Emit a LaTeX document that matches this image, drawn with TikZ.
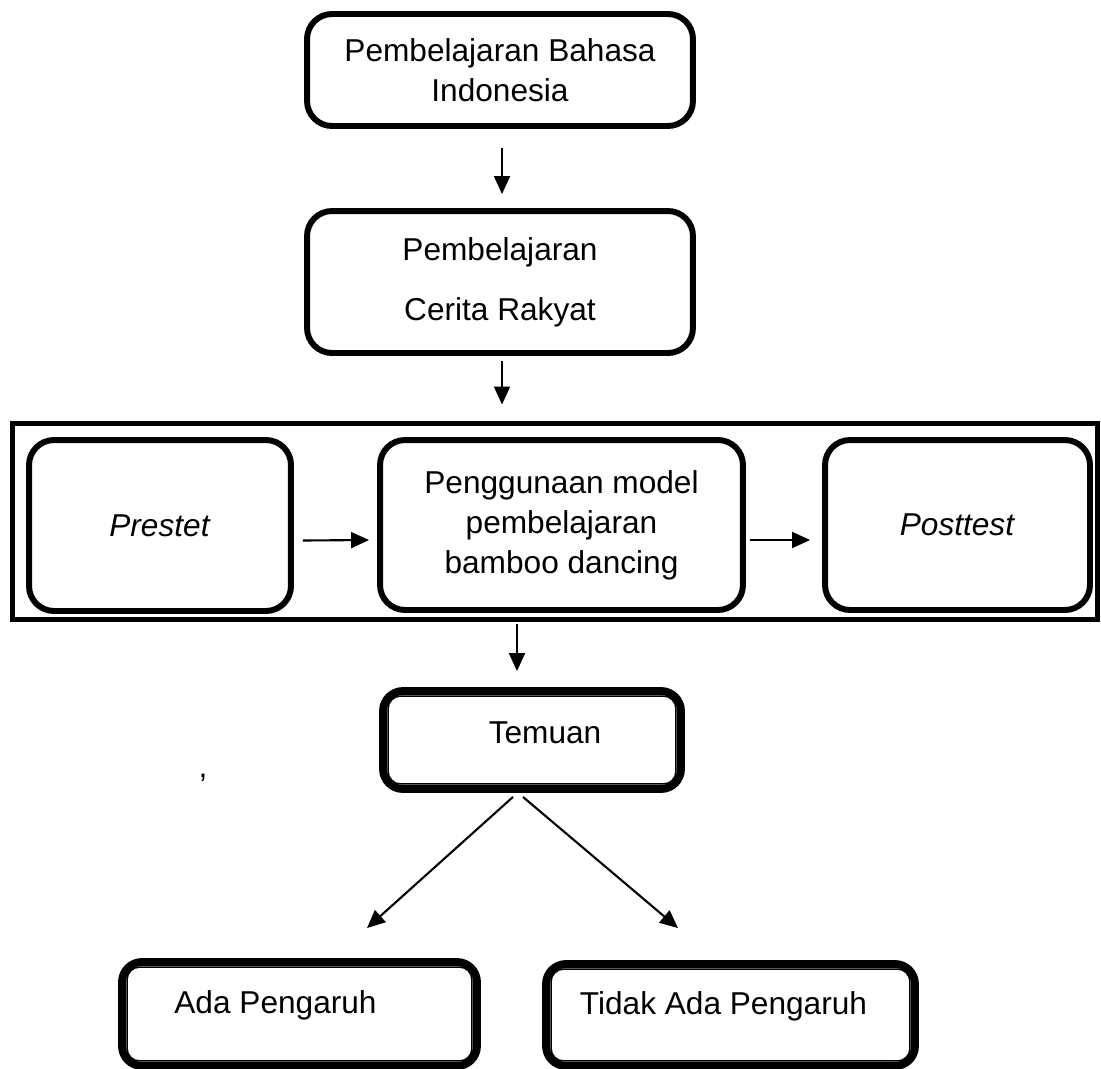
\documentclass[tikz,border=0pt]{standalone}
\usepackage{fontspec}
\setmainfont{Liberation Sans}
\usetikzlibrary{arrows.meta,calc}

\tikzset{
  txt/.style={font=\fontsize{18}{22.8}\selectfont},
  box/.style={txt, draw, line width=3.4pt, rounded corners=0.5cm, align=center},
  dblbox/.style={txt, draw, line width=4.5pt, rounded corners=0.4cm, align=center},
  innerline/.style={line width=0.85pt, rounded corners=0.25cm},
  arr/.style={line width=1.2pt, -{Triangle[length=0.36cm,width=0.32cm]}},
}

\begin{document}
\begin{tikzpicture}[x=0.02cm,y=-0.02cm]
\fill[white] (0,0) rectangle (1101,1068);
\useasboundingbox (0,0) rectangle (1101,1068);

\node[box, minimum width=7.72cm, minimum height=2.24cm] (indo) at (500,70) {Pembelajaran Bahasa\\Indonesia};
\node[box, minimum width=7.72cm, minimum height=2.84cm] (cerita) at (500,282) {Pembelajaran\\[0.4cm]Cerita Rakyat};

% kotak perlakuan
\node[draw, line width=2.85pt, minimum width=21.69cm, minimum height=3.94cm] (frame) at (555,521.5) {};
\node[box, minimum width=5.24cm, minimum height=3.42cm] (pre) at (160,525.5) {\textit{Prestet}};
\node[box, minimum width=7.26cm, minimum height=3.4cm] (model) at (561.5,525) {Penggunaan model\\pembelajaran\\bamboo dancing};
\node[box, minimum width=5.3cm, minimum height=3.4cm] (post) at (957.5,525) {\textit{Posttest}};

\node[dblbox, minimum width=5.96cm, minimum height=1.96cm] (temuan) at (532,740) {\hspace*{0.52cm}\raisebox{0.14cm}[\height][\depth]{Temuan}};
\node[dblbox, minimum width=7.1cm, minimum height=2.08cm] (ada) at (299.5,1014) {\hspace*{-0.96cm}\raisebox{0.18cm}[\height][\depth]{Ada Pengaruh}};
\node[dblbox, minimum width=7.38cm, minimum height=2.04cm] (tidak) at (730.5,1015) {\hspace*{-0.28cm}\raisebox{0.18cm}[\height][\depth]{Tidak Ada Pengaruh}};
\node[txt] (koma) at (203,778) {,};

\foreach \b in {temuan,ada,tidak}
  \draw[innerline] ($(\b.north west)+(9,9)$) rectangle ($(\b.south east)+(-9,-9)$);

\draw[arr] ($(indo.south)+(2,19)$) -- ($(cerita.north)+(2,-14)$);
\draw[arr] ($(cerita.south)+(2,5)$) -- ($(frame.north)+(-53,-16)$);
\draw[arr] ($(pre.east)+(9,15)$) -- ($(model.west)+(-8,15)$);
\draw[arr] ($(model.east)+(4,15)$) -- ($(post.west)+(-12,15)$);
\draw[arr] ($(frame.south)+(-38,2)$) -- ($(temuan.north)+(-15,-16)$);
\draw[arr] ($(temuan.south)+(-19,4)$) -- ($(ada.north)+(67.5,-30)$);
\draw[arr] ($(temuan.south)+(-9,4)$) -- ($(tidak.north)+(-52.5,-32)$);
\end{tikzpicture}
\end{document}
